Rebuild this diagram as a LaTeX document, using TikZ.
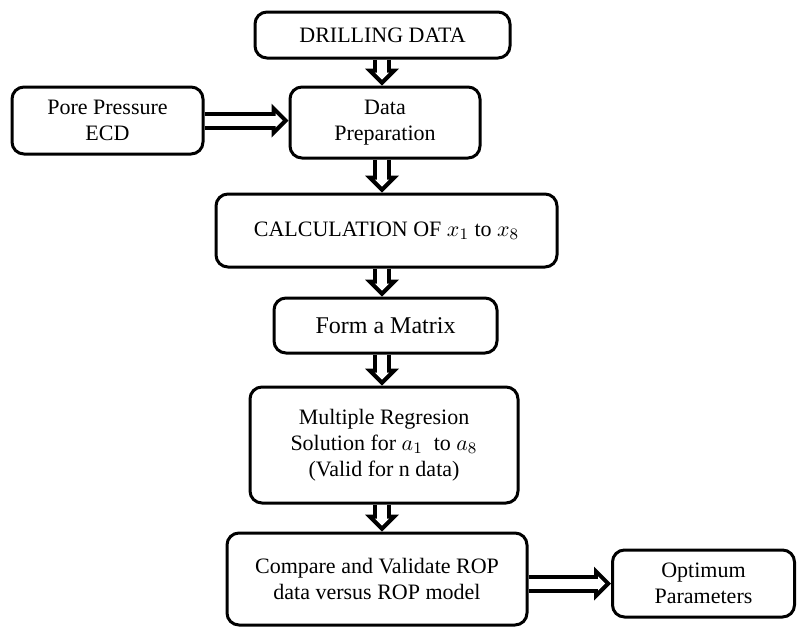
\documentclass[tikz,border=0pt]{standalone}
\usepackage{fontspec}
\setmainfont{Liberation Serif}
\usetikzlibrary{arrows.meta}

\begin{document}
\begin{tikzpicture}[
    x=0.5pt, y=-0.5pt,
    box/.style={rectangle, rounded corners=6pt, draw=black, line width=1.5pt, align=center, inner sep=0pt, font=\fontsize{11}{13}\selectfont},
    fatarrow/.style={line width=9pt, -{Triangle[length=8.5pt,width=17pt,line width=0pt]},
        postaction={draw=white, line width=5pt, shorten >=2.9pt, -{Triangle[length=3.6pt,width=7.2pt,line width=0pt]}}}
]
\useasboundingbox (0,0) rectangle (797,628);

% Boxes
\node[box, minimum width=127.5pt, minimum height=23pt] (drill) at (382.5,35) {DRILLING DATA};
\node[box, minimum width=95pt, minimum height=35.5pt] (prep) at (385,122.5) {Data\\Preparation};
\node[box, minimum width=95.5pt, minimum height=33.5pt] (pore) at (107.5,120.5) {Pore Pressure\\ECD};
\node[box, minimum width=170.5pt, minimum height=36.5pt] (calc) at (386.5,230.5) {CALCULATION OF $x_1$ to $x_8$};
\node[box, minimum width=111.5pt, minimum height=27.5pt, font=\fontsize{12}{14}\selectfont] (formmatrix) at (385.5,325.5) {Form a Matrix};
\node[box, minimum width=134pt, minimum height=58pt] (regr) at (384,445) {Multiple Regresion\\Solution for $a_1$ \ to $a_8$\\(Valid for n data)};
\node[box, minimum width=150pt, minimum height=46pt] (compare) at (377,579) {Compare and Validate ROP\\data versus ROP model};
\node[box, minimum width=91pt, minimum height=33.5pt] (optimum) at (703.5,583.5) {Optimum\\Parameters};

% Arrows
\coordinate (col) at (382,0);
\draw[fatarrow] (drill.south -| col) -- (prep.north -| col);
\draw[fatarrow] (pore.east) -- (pore.east -| prep.west);
\draw[fatarrow] (prep.south -| col) -- (calc.north -| col);
\draw[fatarrow] (calc.south -| col) -- (formmatrix.north -| col);
\draw[fatarrow] (formmatrix.south -| col) -- (regr.north -| col);
\draw[fatarrow] (regr.south -| col) -- (compare.north -| col);
\draw[fatarrow] (compare.east |- optimum.west) -- (optimum.west);

\end{tikzpicture}
\end{document}
